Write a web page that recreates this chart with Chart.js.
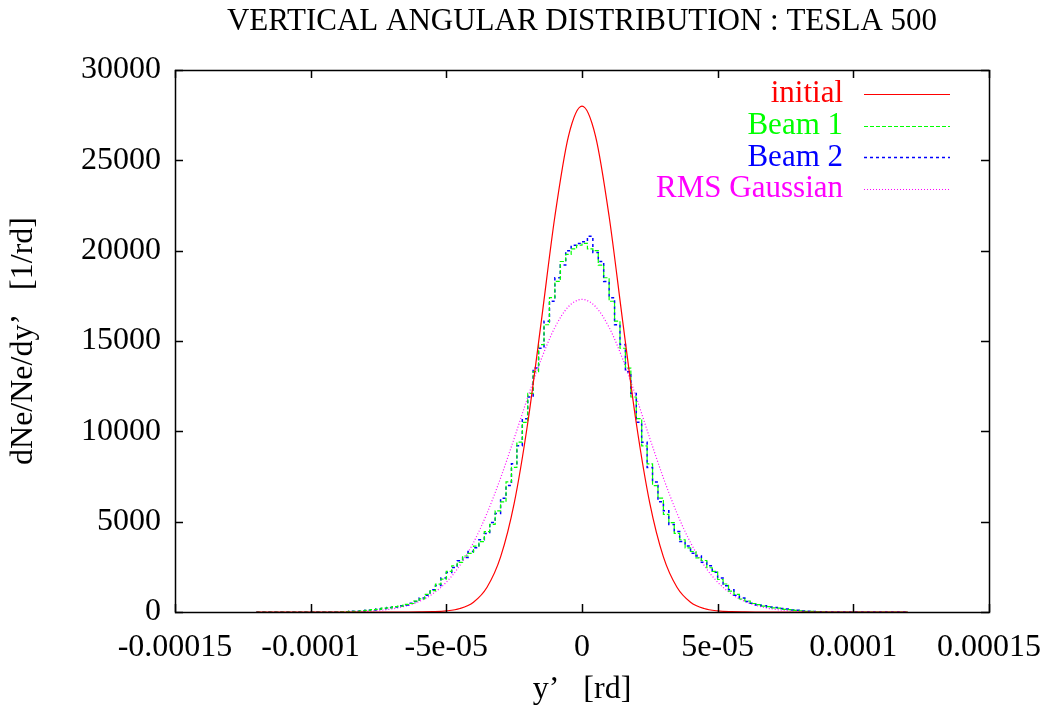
<!DOCTYPE html>
<html>
<head>
<meta charset="utf-8">
<script src="https://cdn.jsdelivr.net/npm/chart.js@4/dist/chart.umd.min.js"></script>
<style>
  html, body { margin: 0; padding: 0; background: #fff; }
  canvas { display: block; }
</style>
</head>
<body>
<canvas id="chart" width="1047" height="713"></canvas>
<script>
const chartTitle = 'VERTICAL ANGULAR DISTRIBUTION : TESLA 500';
const xTitle = 'y\u2019   [rd]';
const yTitle = 'dNe/Ne/dy\u2019   [1/rd]';

const xTickValues = [-0.00015, -0.0001, -0.00005, 0, 0.00005, 0.0001, 0.00015];
const xTickLabels = ['-0.00015', '-0.0001', '-5e-05', '0', '5e-05', '0.0001', '0.00015'];
const yTickValues = [0, 5000, 10000, 15000, 20000, 25000, 30000];

const seriesLabels = ['initial', 'Beam 1', 'Beam 2', 'RMS Gaussian'];
const seriesColors = ['#ff0000', '#00ff00', '#0000ff', '#ff00ff'];

// smooth curves, sampled every 5 µrad from -120 to +120 µrad
const curveStart = -0.00012;
const curveStep = 0.000005;
const initialCurve = [0, 0, 0, 0, 0, 0, 0, 0, 0, 0, 0, 1, 4, 16, 59, 191, 545, 1372, 3050, 6010, 10460, 16090, 21890, 26330,
  28000,
  26330, 21890, 16090, 10460, 6010, 3050, 1372, 545, 191, 59, 16, 4, 1, 0, 0, 0, 0, 0, 0, 0, 0, 0, 0, 0];
const rmsGaussian = [0, 0, 0, 0, 1, 4, 8, 19, 42, 87, 172, 326, 586, 1005, 1650, 2580, 3840, 5470, 7420, 9610, 11880, 14000, 15750, 16900,
  17300,
  16900, 15750, 14000, 11880, 9610, 7420, 5470, 3840, 2580, 1650, 1005, 586, 326, 172, 87, 42, 19, 8, 4, 1, 0, 0, 0, 0];

// histograms: 2 µrad bins from -90 to +90 µrad
const binStart = -0.00009;
const binWidth = 0.000002;
const histRange = [-0.00012, 0.00012];
const beam1 = [
  15, 25, 30, 40, 70, 85, 130, 150, 210, 230, 300, 330, 420, 470, 600, 730, 980, 1180, 1540, 1820,
  2250, 2560, 2750, 3100, 3250, 3650, 3900, 4450, 4850, 5600, 6100, 7200, 8000, 9400, 10500, 12100, 13300, 14800, 15900, 17400,
  18300, 19400, 19800, 20100, 20300,
  20400, 20100, 20000, 19200, 18500, 17200, 16100, 14600, 13500, 11900, 10700, 9200, 8200, 7000, 6300, 5400, 4950, 4350, 4000, 3550,
  3350, 3000, 2850, 2450, 2250, 1800, 1550, 1150, 980, 720, 610, 470, 410, 330, 300, 230, 210, 150, 130, 85,
  70, 40, 35, 20, 15];
const beam2 = [
  10, 20, 35, 45, 60, 95, 115, 165, 190, 250, 280, 350, 390, 490, 580, 770, 930, 1230, 1470, 1880,
  2180, 2460, 2840, 3020, 3350, 3550, 4000, 4350, 4950, 5450, 6300, 7000, 8200, 9200, 10700, 11900, 13500, 14600, 16100, 17200,
  18500, 19200, 20000, 20300, 20400,
  20500, 20800, 19900, 19400, 18300, 17400, 15900, 14800, 13300, 12100, 10500, 9400, 8000, 7200, 6100, 5600, 4850, 4450, 3900, 3650,
  3250, 3100, 2750, 2560, 2200, 1880, 1450, 1230, 930, 770, 580, 490, 390, 350, 280, 250, 190, 165, 115, 95,
  60, 45, 30, 20, 10];

const FONT = "'Liberation Serif', 'Times New Roman', serif";

function curvePoints(values) {
  return values.map((v, i) => ({ x: curveStart + i * curveStep, y: v }));
}

// left bin edges, flat zero outside the binned range
function histPoints(values) {
  const pts = [{ x: histRange[0], y: 0 }];
  values.forEach((v, i) => pts.push({ x: binStart + i * binWidth, y: v }));
  pts.push({ x: binStart + values.length * binWidth, y: 0 });
  pts.push({ x: histRange[1], y: 0 });
  return pts;
}

const dashes = [[], [4, 2], [3, 3], [1, 2]];
const widths = [1.2, 1.2, 1.5, 1.2];

// frame, inward ticks, titles and key drawn like the old gnuplot output
const decorations = {
  id: 'decorations',
  afterDatasetsDraw(chart) {
    const { ctx, chartArea: a, scales } = chart;
    const tick = 8;
    ctx.save();
    ctx.strokeStyle = '#000';
    ctx.lineWidth = 1.5;
    ctx.setLineDash([]);
    ctx.beginPath();
    xTickValues.forEach(v => {
      const px = Math.round(scales.x.getPixelForValue(v)) + 0.5;
      ctx.moveTo(px, a.bottom); ctx.lineTo(px, a.bottom - tick);
      ctx.moveTo(px, a.top); ctx.lineTo(px, a.top + tick);
    });
    yTickValues.forEach(v => {
      const py = Math.round(scales.y.getPixelForValue(v)) + 0.5;
      ctx.moveTo(a.left, py); ctx.lineTo(a.left + tick, py);
      ctx.moveTo(a.right, py); ctx.lineTo(a.right - tick, py);
    });
    ctx.stroke();
    ctx.strokeRect(Math.round(a.left) + 0.5, Math.round(a.top) + 0.5,
      Math.round(a.right - a.left), Math.round(a.bottom - a.top));

    const cx = (a.left + a.right) / 2;
    ctx.fillStyle = '#000';
    ctx.textAlign = 'center';
    ctx.textBaseline = 'middle';
    ctx.font = '31px ' + FONT;
    ctx.fillText(chartTitle, cx, 22);
    ctx.font = '32px ' + FONT;
    ctx.fillText(xTitle, cx, 690);
    ctx.save();
    ctx.translate(24, (a.top + a.bottom) / 2);
    ctx.rotate(-Math.PI / 2);
    ctx.fillText(yTitle, 0, 0);
    ctx.restore();

    // key
    ctx.font = '31px ' + FONT;
    ctx.textAlign = 'right';
    chart.data.datasets.forEach((ds, i) => {
      const y = a.top + 24 + i * 31.7;
      ctx.fillStyle = ds.borderColor;
      ctx.fillText(ds.label, a.right - 146, y);
      ctx.strokeStyle = ds.borderColor;
      ctx.lineWidth = ds.borderWidth;
      ctx.setLineDash(ds.borderDash);
      ctx.beginPath();
      ctx.moveTo(a.right - 125, Math.round(y) + 0.5);
      ctx.lineTo(a.right - 39, Math.round(y) + 0.5);
      ctx.stroke();
    });
    ctx.restore();
  }
};

const datasets = [
  { data: curvePoints(initialCurve), cubicInterpolationMode: 'monotone' },
  { data: histPoints(beam1), stepped: 'before' },
  { data: histPoints(beam2), stepped: 'before' },
  { data: curvePoints(rmsGaussian), cubicInterpolationMode: 'monotone' }
].map((d, i) => Object.assign({
  label: seriesLabels[i],
  borderColor: seriesColors[i],
  backgroundColor: seriesColors[i],
  borderWidth: widths[i],
  borderDash: dashes[i],
  pointRadius: 0,
  fill: false
}, d));

new Chart(document.getElementById('chart').getContext('2d'), {
  type: 'line',
  data: { datasets },
  options: {
    responsive: false,
    animation: false,
    devicePixelRatio: 1,
    layout: { padding: { top: 70, right: 58, left: 0, bottom: 0 } },
    plugins: {
      legend: { display: false },
      tooltip: { enabled: false }
    },
    scales: {
      x: {
        type: 'linear',
        min: -0.00015,
        max: 0.00015,
        grid: { display: false, drawTicks: false },
        border: { display: false },
        afterBuildTicks: s => { s.ticks = xTickValues.map(v => ({ value: v })); },
        afterFit: s => { s.height = 101; s.paddingLeft = 0; s.paddingRight = 0; },
        ticks: {
          autoSkip: false,
          maxRotation: 0,
          padding: 16,
          color: '#000',
          font: { family: FONT, size: 32 },
          callback: (v, i) => xTickLabels[i]
        }
      },
      y: {
        min: 0,
        max: 30000,
        grid: { display: false, drawTicks: false },
        border: { display: false },
        afterBuildTicks: s => { s.ticks = yTickValues.map(v => ({ value: v })); },
        afterFit: s => { s.width = 175; s.paddingTop = 0; s.paddingBottom = 0; },
        ticks: {
          padding: 14,
          color: '#000',
          font: { family: FONT, size: 32 },
          callback: v => String(v)
        }
      }
    }
  },
  plugins: [decorations]
});
</script>
</body>
</html>
